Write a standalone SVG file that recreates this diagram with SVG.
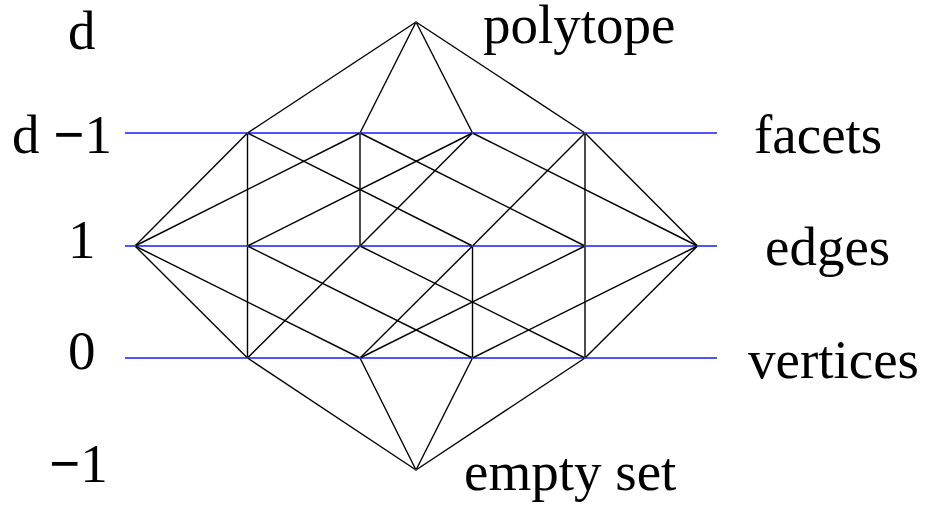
<svg xmlns="http://www.w3.org/2000/svg" width="930" height="506" viewBox="0 0 930 506">
<style>
.lvl{stroke:#1a1aff;stroke-width:1.5;fill:none}
.c{stroke:#000;stroke-width:1.4;fill:none}
.n{fill:#555}
.m{font-weight:bold}
text{font-family:"Liberation Serif","Times New Roman",serif;font-size:55px;fill:#000}
</style>
<rect width="930" height="506" fill="#fff"/>
<g id="levels">
<line class="lvl" x1="125" y1="133" x2="717" y2="133"/>
<line class="lvl" x1="125" y1="246" x2="717" y2="246"/>
<line class="lvl" x1="125" y1="358" x2="717" y2="358"/>
</g>
<g id="connectors">
<line class="c" x1="416" y1="22" x2="247.5" y2="133"/>
<line class="c" x1="416" y1="22" x2="360" y2="133"/>
<line class="c" x1="416" y1="22" x2="472.5" y2="133"/>
<line class="c" x1="416" y1="22" x2="585" y2="133"/>
<line class="c" x1="247.5" y1="133" x2="135" y2="246"/>
<line class="c" x1="247.5" y1="133" x2="247.5" y2="246"/>
<line class="c" x1="247.5" y1="133" x2="472.5" y2="246"/>
<line class="c" x1="360" y1="133" x2="135" y2="246"/>
<line class="c" x1="360" y1="133" x2="360" y2="246"/>
<line class="c" x1="360" y1="133" x2="585" y2="246"/>
<line class="c" x1="472.5" y1="133" x2="247.5" y2="246"/>
<line class="c" x1="472.5" y1="133" x2="360" y2="246"/>
<line class="c" x1="472.5" y1="133" x2="697.5" y2="246"/>
<line class="c" x1="585" y1="133" x2="472.5" y2="246"/>
<line class="c" x1="585" y1="133" x2="585" y2="246"/>
<line class="c" x1="585" y1="133" x2="697.5" y2="246"/>
<line class="c" x1="247.5" y1="358" x2="135" y2="246"/>
<line class="c" x1="247.5" y1="358" x2="247.5" y2="246"/>
<line class="c" x1="247.5" y1="358" x2="360" y2="246"/>
<line class="c" x1="360" y1="358" x2="135" y2="246"/>
<line class="c" x1="360" y1="358" x2="472.5" y2="246"/>
<line class="c" x1="360" y1="358" x2="585" y2="246"/>
<line class="c" x1="472.5" y1="358" x2="247.5" y2="246"/>
<line class="c" x1="472.5" y1="358" x2="472.5" y2="246"/>
<line class="c" x1="472.5" y1="358" x2="697.5" y2="246"/>
<line class="c" x1="585" y1="358" x2="360" y2="246"/>
<line class="c" x1="585" y1="358" x2="585" y2="246"/>
<line class="c" x1="585" y1="358" x2="697.5" y2="246"/>
<line class="c" x1="416" y1="470" x2="247.5" y2="358"/>
<line class="c" x1="416" y1="470" x2="360" y2="358"/>
<line class="c" x1="416" y1="470" x2="472.5" y2="358"/>
<line class="c" x1="416" y1="470" x2="585" y2="358"/>
</g>
<g id="polytope"><circle class="n" cx="416" cy="22" r="1"/></g>
<g id="facet1"><circle class="n" cx="247.5" cy="133" r="1"/></g>
<g id="facet2"><circle class="n" cx="360" cy="133" r="1"/></g>
<g id="facet3"><circle class="n" cx="472.5" cy="133" r="1"/></g>
<g id="facet4"><circle class="n" cx="585" cy="133" r="1"/></g>
<g id="edge1"><circle class="n" cx="135" cy="246" r="1"/></g>
<g id="edge2"><circle class="n" cx="247.5" cy="246" r="1"/></g>
<g id="edge3"><circle class="n" cx="360" cy="246" r="1"/></g>
<g id="edge4"><circle class="n" cx="472.5" cy="246" r="1"/></g>
<g id="edge5"><circle class="n" cx="585" cy="246" r="1"/></g>
<g id="edge6"><circle class="n" cx="697.5" cy="246" r="1"/></g>
<g id="vertex1"><circle class="n" cx="247.5" cy="358" r="1"/></g>
<g id="vertex2"><circle class="n" cx="360" cy="358" r="1"/></g>
<g id="vertex3"><circle class="n" cx="472.5" cy="358" r="1"/></g>
<g id="vertex4"><circle class="n" cx="585" cy="358" r="1"/></g>
<g id="emptyset"><circle class="n" cx="416" cy="470" r="1"/></g>
<g id="dim-labels">
<text x="68" y="49">d</text>
<text x="12" y="153">d <tspan class="m">−</tspan>1</text>
<text x="68" y="258">1</text>
<text x="68" y="369">0</text>
<text x="49" y="482"><tspan class="m">−</tspan>1</text>
</g>
<g id="rank-labels">
<text x="483" y="43">polytope</text>
<text x="754" y="153">facets</text>
<text x="765" y="265">edges</text>
<text x="748" y="378">vertices</text>
<text x="464" y="490">empty set</text>
</g>
</svg>
